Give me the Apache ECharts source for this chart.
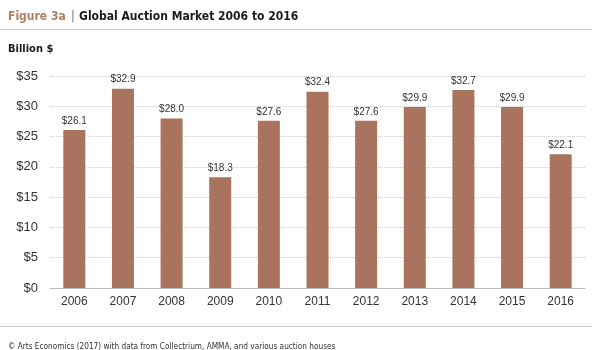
<!DOCTYPE html>
<html>
<head>
<meta charset="utf-8">
<script src="https://cdn.jsdelivr.net/npm/echarts@6/dist/echarts.min.js"></script>
<style>
  html, body { margin: 0; padding: 0; background: #fff; }
  #main { width: 600px; height: 350px; }
</style>
</head>
<body>
<div id="main"></div>
<script>
var years = ['2006', '2007', '2008', '2009', '2010', '2011', '2012', '2013', '2014', '2015', '2016'];
var sales = [26.1, 32.9, 28.0, 18.3, 27.6, 32.4, 27.6, 29.9, 32.7, 29.9, 22.1];
var barColor = '#a9735d';
var condensed = 'DejaVu Sans Condensed, DejaVu Sans, sans-serif';

var myChart = echarts.init(document.getElementById('main'));

var option = {
    backgroundColor: '#ffffff',
    animation: false,
    textStyle: { fontFamily: 'Liberation Sans, Arial, sans-serif' },
    title: [{
        text: '{a|Figure 3a} {b|| }{c|Global Auction Market 2006 to 2016}',
        left: 3,
        top: 3,
        textStyle: {
            rich: {
                a: { fontSize: 12, fontWeight: 'bold', color: '#b27d62', fontFamily: condensed },
                b: { fontSize: 13, color: '#999999', fontFamily: condensed },
                c: { fontSize: 12, fontWeight: 'bold', color: '#1a1a1a', fontFamily: condensed }
            }
        }
    }, {
        text: 'Billion $',
        left: 3,
        top: 39,
        textStyle: { fontSize: 11, fontWeight: 'bold', color: '#1a1a1a', fontFamily: condensed }
    }, {
        text: '© Arts Economics (2017) with data from Collectrium, AMMA, and various auction houses',
        left: 3,
        top: 338,
        textStyle: { fontSize: 8.2, fontWeight: 'normal', color: '#333333', fontFamily: condensed }
    }],
    graphic: [{
        type: 'line',
        shape: { x1: 0, y1: 29.5, x2: 592, y2: 29.5 },
        style: { stroke: '#c8c8c8', lineWidth: 1 }
    }, {
        type: 'line',
        shape: { x1: 0, y1: 326.5, x2: 592, y2: 326.5 },
        style: { stroke: '#c8c8c8', lineWidth: 1 }
    }],
    grid: {
        left: 50,
        right: 15,
        top: 76,
        bottom: 62,
        containLabel: false
    },
    xAxis: {
        type: 'category',
        data: years,
        axisTick: { show: false },
        axisLine: { show: true, lineStyle: { color: '#bbbbbb', width: 1 } },
        axisLabel: { color: '#333333', fontSize: 12, margin: 8 }
    },
    yAxis: {
        type: 'value',
        min: 0,
        max: 35,
        interval: 5,
        axisLine: { show: false },
        axisTick: { show: false },
        axisLabel: {
            color: '#333333',
            fontSize: 13,
            margin: 12,
            formatter: function (v) { return '$' + v; }
        },
        splitLine: { lineStyle: { color: '#cccccc', type: 'dotted', width: 1 } }
    },
    series: [{
        type: 'bar',
        data: sales,
        barWidth: 22,
        itemStyle: { color: barColor },
        label: {
            show: true,
            position: 'top',
            distance: 4,
            color: '#333333',
            fontSize: 10,
            formatter: function (p) { return '$' + p.value.toFixed(1); }
        }
    }]
};

myChart.setOption(option);
</script>
</body>
</html>
